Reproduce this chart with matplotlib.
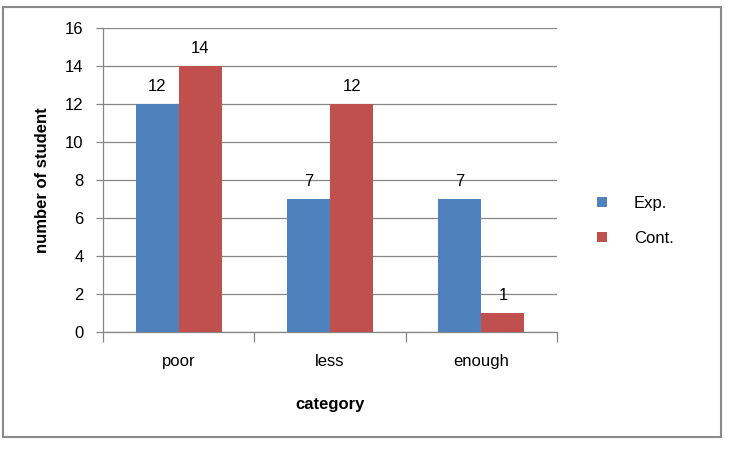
import matplotlib
matplotlib.use("Agg")
import matplotlib.pyplot as plt
from matplotlib.patches import Rectangle
import numpy as np

plt.rcParams['font.family'] = ['Liberation Sans', 'DejaVu Sans']

categories = ["poor", "less", "enough"]
exp_values = [12, 7, 7]
cont_values = [14, 12, 1]
series_names = ["Exp.", "Cont."]
yticks = [0, 2, 4, 6, 8, 10, 12, 14, 16]

blue = "#4F81BD"
red = "#C0504D"
grid_c = "#868686"
fs = 12

fig = plt.figure(figsize=(7.3, 4.5), dpi=100)
ax = fig.add_axes([103/730, 1-332/450, (557-103)/730, (332-28)/450])

x = np.arange(len(categories))
w = 0.285
b1 = ax.bar(x - w/2, exp_values, w, color=blue, label=series_names[0], zorder=3)
b2 = ax.bar(x + w/2, cont_values, w, color=red, label=series_names[1], zorder=3)

for bars in (b1, b2):
    for r in bars:
        ax.annotate(f"{int(r.get_height())}", (r.get_x() + r.get_width()/2, r.get_height()),
                    xytext=(0, 7), textcoords="offset points", ha="center", va="bottom",
                    fontsize=fs, color="black")

ax.set_xlim(-0.5, 2.5)
ax.set_ylim(0, 16)
ax.set_yticks(yticks)
ax.yaxis.grid(True, color=grid_c, linewidth=0.9, zorder=0)
ax.set_axisbelow(True)

ax.set_xticks([-0.5, 0.5, 1.5, 2.5])
ax.set_xticklabels([])
ax.set_xticks(x, minor=True)
ax.set_xticklabels(categories, minor=True, fontsize=fs)
ax.tick_params(axis='x', which='minor', length=0, pad=16)
ax.tick_params(axis='x', which='major', length=7, color=grid_c, width=0.9)
ax.tick_params(axis='y', length=5, color=grid_c, width=0.9, labelsize=fs, pad=9)

for s in ("top", "right"):
    ax.spines[s].set_visible(False)
for s in ("left", "bottom"):
    ax.spines[s].set_color(grid_c)
    ax.spines[s].set_linewidth(0.9)

ax.set_xlabel("category", fontsize=fs, fontweight="bold", labelpad=20)
ax.set_ylabel("number of student", fontsize=fs, fontweight="bold", labelpad=11)

leg = fig.legend(handles=[b1, b2], loc="center left", bbox_to_anchor=(582/730, 1-221/450),
                 frameon=False, fontsize=fs, handlelength=0.6, handleheight=0.6,
                 handletextpad=1.6, labelspacing=1.2)

fig.patches.append(Rectangle((3/730, 1-437/450), (721-3)/730, (437-7)/450,
                             transform=fig.transFigure, fill=False, edgecolor="#8a8a8a",
                             linewidth=1.5))

fig.savefig("out.png", dpi=100)
